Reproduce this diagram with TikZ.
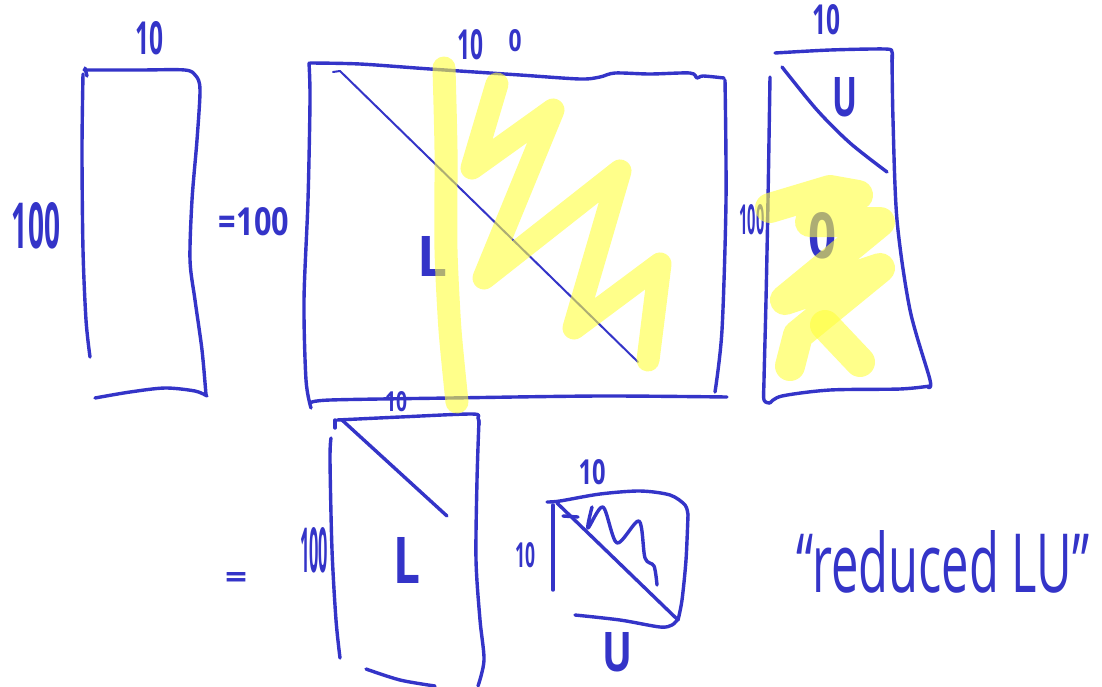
\documentclass[tikz,border=0pt]{standalone}
\usepackage{fontspec}
\usepackage{graphicx}
\newfontfamily\handfont{Open Sans}
\definecolor{ink}{RGB}{52,52,200}
\definecolor{hl}{RGB}{255,255,60}
\tikzset{
  pen/.style={draw=ink, line width=3.4pt, line cap=round, line join=round},
  thinpen/.style={draw=ink, line width=2pt, line cap=round, line join=round},
  marker/.style={draw=hl, opacity=0.6, line width=23pt, line cap=round, line join=round},
  lbl/.style={text=ink, inner sep=0pt, font=\handfont\bfseries},
  notelbl/.style={text=ink, inner sep=0pt, font=\handfont}
}
\begin{document}
\begin{tikzpicture}[x=1pt,y=-1pt]
\fill[white] (0,0) rectangle (1102,686);
\useasboundingbox (0,0) rectangle (1102,686);

% ---- box 1 (tall matrix) ----
\draw[pen] plot[smooth] coordinates {(84,70) (140,70) (185,70) (196,76) (200,90) (197,140) (192,200) (190,260) (195,300) (202,350) (206,395)};
\draw[pen] plot[smooth] coordinates {(83,74) (82,150) (83,250) (86,320) (90,357)};
\draw[pen] plot[smooth] coordinates {(95,398) (130,392) (165,388) (195,391) (207,396)};
\draw[pen] (85,68) -- (87,76);
\node[lbl] (b1top) at (149,38) {\resizebox{28pt}{33pt}{10}};
\node[lbl] (b1left) at (36,226) {\resizebox{48pt}{46pt}{100}};
\node[lbl] (eq1) at (254,222) {\resizebox{70pt}{28pt}{=100}};

% ---- box 2 (big matrix) ----
\draw[pen] plot[smooth] coordinates {(310,63) (360,64) (430,69) (520,75) (580,79) (600,77) (615,73) (650,74) (690,73) (697,78) (703,76) (724,78)};
\draw[pen] plot[smooth] coordinates {(725,80) (726,200) (722,330) (715,392)};
\draw[pen] plot[smooth] coordinates {(310,403) (330,400) (450,398) (600,396) (727,397)};
\draw[pen] plot[smooth] coordinates {(309,63) (310,100) (308,200) (304,300) (306,380) (311,408)};
\draw[thinpen] (333,72) -- (340,71) -- (638,362);
\node[lbl] (b2top) at (470,45) {\resizebox{26pt}{30pt}{10}};
\node[lbl] (b2top0) at (515,41) {\resizebox{13pt}{22pt}{0}};
\node[lbl] (b2L) at (432,256) {\resizebox{30pt}{40pt}{L}};

% ---- box 3 (U block) ----
\draw[pen] plot[smooth] coordinates {(775,53) (830,50) (885,49) (892,52) (892,62)};
\draw[pen] plot[smooth] coordinates {(892,55) (893,120) (897,220) (910,310) (930,380) (928,387)};
\draw[pen] plot[smooth] coordinates {(770,77) (768,200) (766,300) (764,380) (764,400) (770,403)};
\draw[pen] plot[smooth] coordinates {(770,403) (782,396) (830,390) (900,389) (930,386)};
\draw[pen] plot[smooth] coordinates {(782,67) (817,110) (850,143) (887,172)};
\node[lbl] (b3top) at (826,20) {\resizebox{28pt}{30pt}{10}};
\node[lbl] (b3U) at (845,97) {\resizebox{25pt}{39pt}{U}};
\node[lbl] (b3left) at (752,220) {\resizebox{25pt}{30pt}{100}};
\node[lbl] (b3zero) at (822,236) {\resizebox{28pt}{46pt}{0}};

% ---- box 4 (reduced L) ----
\draw[pen] plot[smooth] coordinates {(337,420) (400,417) (472,414) (478,418) (479,425)};
\draw[pen] plot[smooth] coordinates {(479,420) (477,480) (476,560) (480,620) (484,660) (478,686)};
\draw[pen] plot[smooth] coordinates {(331,438) (330,460) (332,550) (336,620) (340,658)};
\draw[pen] plot[smooth] coordinates {(366,669) (400,680) (435,686)};
\draw[pen] (335,420) -- (335,428);
\draw[pen] (342,420) -- (447,516);
\node[lbl] (b4top) at (396,402) {\resizebox{22pt}{20pt}{10}};
\node[lbl] (b4left) at (314,550) {\resizebox{28pt}{45pt}{100}};
\node[lbl] (b4L) at (407,560) {\resizebox{27pt}{46pt}{L}};
\node[lbl] (eq2) at (236,580) {\resizebox{22pt}{16pt}{=}};

% ---- box 5 (reduced U) ----
\draw[pen] plot[smooth] coordinates {(547,502) (560,501) (600,494) (640,491) (670,495) (685,505) (688,515)};
\draw[pen] plot[smooth] coordinates {(688,515) (686,560) (682,600) (678,620)};
\draw[pen] plot[smooth] coordinates {(575,615) (620,620) (660,627) (672,625) (678,619)};
\draw[pen] (553,505) -- (553,590);
\draw[pen] (557,503) -- (678,620);
\draw[pen] (563,516) -- (578,517);
\draw[pen] plot[smooth, tension=0.5] coordinates {(592,507) (588,528) (603,507) (617,543) (639,521) (645,558) (654,566) (657,585)};
\node[lbl] (b5top) at (592,472) {\resizebox{27pt}{25pt}{10}};
\node[lbl] (b5left) at (525,555) {\resizebox{20pt}{25pt}{10}};
\node[lbl] (b5U) at (617,652) {\resizebox{30pt}{39pt}{U}};

\node[notelbl] (note) at (943,562) {\resizebox{293pt}{62pt}{“reduced LU”}};

% ---- highlighter strokes ----
\draw[marker] plot[smooth, tension=0.4] coordinates {(444,68) (446,150) (446,250) (450,330) (457,402)};
\draw[marker] (497,84) -- (472,168) -- (553,110) -- (484,278) -- (620,171) -- (574,328) -- (660,264) -- (648,360);
\draw[marker, line width=30pt] (770,208) -- (830,190) -- (858,195) -- (810,222) -- (880,222) -- (785,300) -- (880,268) -- (798,335) -- (790,366);
\draw[marker, line width=30pt] (825,325) -- (860,362);
\end{tikzpicture}
\end{document}
